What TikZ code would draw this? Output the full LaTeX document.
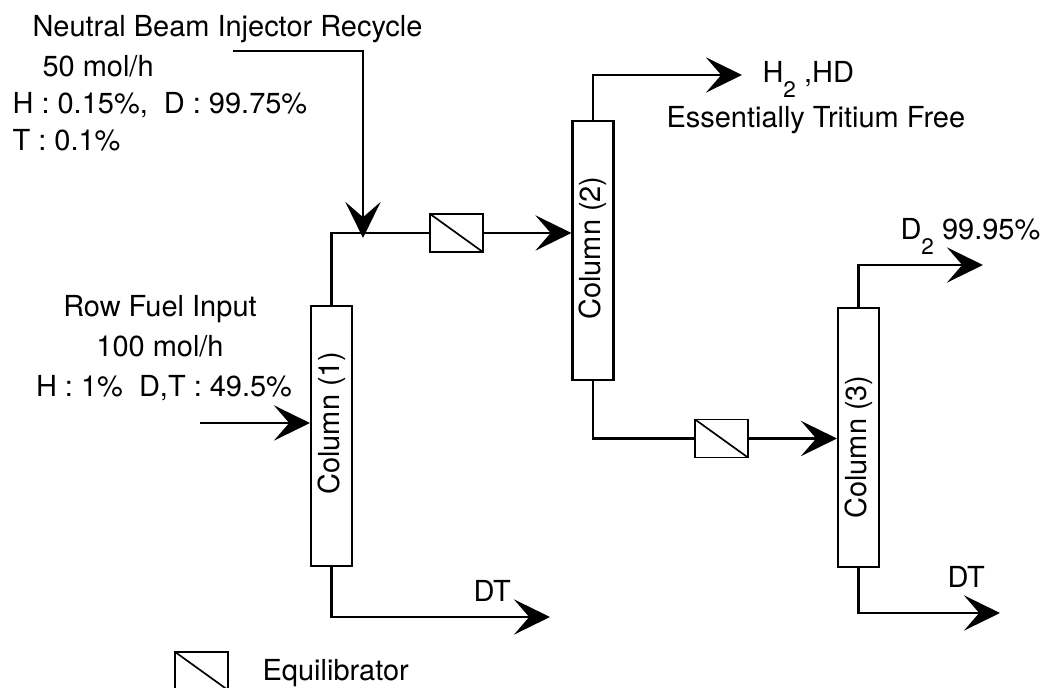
\documentclass[tikz,border=0pt]{standalone}
\usepackage{fontspec}
\setmainfont{TeX Gyre Heros}
\usetikzlibrary{arrows.meta}
\newcommand{\lowidx}[1]{\raisebox{-5pt}{\fontsize{8}{8}\selectfont #1}}
\tikzset{
  column/.style={draw, line width=0.8pt, minimum width=5.1mm, minimum height=32.4mm, inner sep=0pt},
  equil/.style={draw, line width=0.6pt, minimum width=6.6mm, minimum height=4.75mm, inner sep=0pt,
    path picture={\draw[line width=0.6pt] (path picture bounding box.north west) -- (path picture bounding box.south east);}},
  pipe/.style={line width=0.9pt},
  flow/.style={pipe, -{Stealth[length=4.5mm, width=4.4mm, inset=1.9mm]}},
  tag/.style={inner sep=0pt, anchor=base west},
  tagc/.style={inner sep=0pt, anchor=base},
  colname/.style={rotate=90, inner sep=0pt}
}
\begin{document}
\begin{tikzpicture}[x=0.0125cm, y=-0.0125cm, font=\fontsize{10.3}{12}\selectfont]
  \useasboundingbox (0,0) rectangle (1051,688);

  \node[column] (col1) at (331.5,436) {};
  \node[column] (col2) at (593,250.5) {};
  \node[column] (col3) at (858.5,437.5) {};
  \node[colname] (col1name) at (331.5,423) {Column (1)};
  \node[colname] (col2name) at (593,248) {Column (2)};
  \node[colname] (col3name) at (858.5,447) {Column (3)};

  \node[equil] (eq1) at (456.5,233) {};
  \node[equil] (eq2) at (721.5,438.5) {};

  \coordinate (recycle) at (233,51);
  \coordinate (merge) at (363,238);
  \coordinate (feed) at (200,423);
  \coordinate (lightout) at (742,75);
  \coordinate (dtone) at (550,617);
  \coordinate (dtwo) at (983,265);
  \coordinate (dtthree) at (1000,613);

  \draw[pipe] (col1.north) |- (eq1.west);
  \draw[flow] (recycle) -| (merge);
  \draw[flow] (eq1.east) -- (col2.west |- eq1.east);
  \draw[flow] (feed) -- (col1.west |- feed);
  \draw[flow] (col1.south) |- (dtone);
  \draw[flow] (col2.north) |- (lightout);
  \draw[pipe] (col2.south) |- (eq2.west);
  \draw[flow] (eq2.east) -- (col3.west |- eq2.east);
  \draw[flow] (col3.north) |- (dtwo);
  \draw[flow] (col3.south) |- (dtthree);

  \node[tag] (nbi) at (32,37) {Neutral Beam Injector Recycle};
  \node[tag] (nbirate) at (42,77) {50 mol/h};
  \node[tag] (nbihd) at (12,114) {H : 0.15\%,\ \ D : 99.75\%};
  \node[tag] (nbit) at (12,151) {T : 0.1\%};

  \node[tagc] (raw) at (160,317) {Row Fuel Input};
  \node[tagc] (rawrate) at (160,357) {100 mol/h};
  \node[tagc] (rawmix) at (164,397) {H : 1\%\ \ D,T : 49.5\%};

  \node[tag] (light) at (762,83) {H\lowidx{2} ,HD};
  \node[tag] (lightnote) at (666,128) {Essentially Tritium Free};
  \node[tag] (dtwoname) at (900,240) {D\lowidx{2} 99.95\%};
  \node[tag] (dtonename) at (473,602) {DT};
  \node[tag] (dtthreename) at (947,588) {DT};

  \node[equil] (legbox) at (201.5,671) {};
  \node[tag] (legname) at (262,681) {Equilibrator};
\end{tikzpicture}
\end{document}
